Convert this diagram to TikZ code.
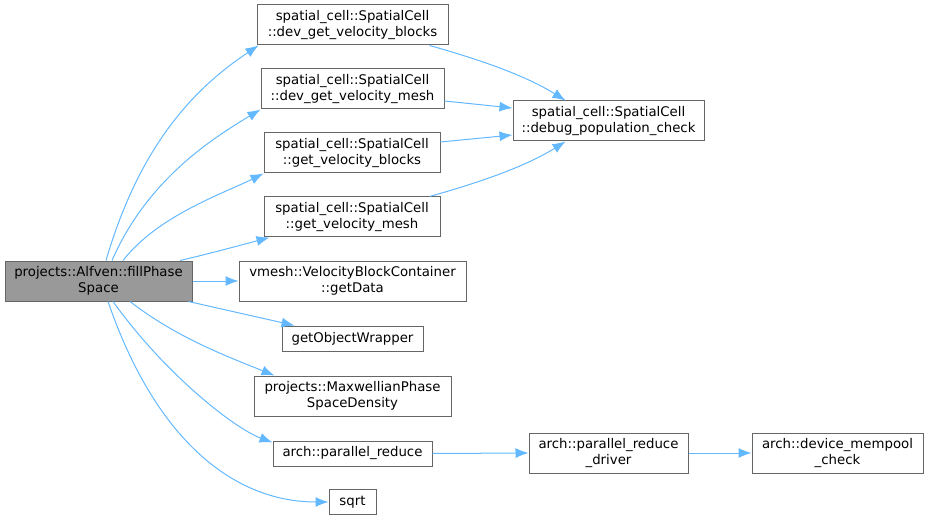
\documentclass[tikz,border=0pt]{standalone}
\usepackage{fontspec}
\setmainfont{DejaVu Sans}
\usetikzlibrary{arrows.meta}

\definecolor{edgeblue}{HTML}{63B8FF}
\definecolor{boxgray}{HTML}{666666}
\definecolor{rootgray}{HTML}{999999}

\begin{document}
\begin{tikzpicture}[x = 1pt, y = -1pt, > = {Latex[length = 13pt, width = 10pt]},
	fn/.style = {draw = boxgray, line width = 1pt, fill = white, inner sep = 0pt, align = center,
		font = \fontsize{13.3}{15.5}\selectfont, minimum height = 40pt},
	fnone/.style = {fn, minimum height = 25pt},
	call/.style = {->, edgeblue, line width = 1pt}]

	\useasboundingbox (0, 0) rectangle (928, 521);

	% Caller
	
	\node [fn, fill = rootgray, minimum width = 187pt] (root) at (98.5, 281) {projects::Alfven::fillPhase\\Space};
	
	% First level callees
	
	\node [fn, minimum width = 191pt] (dgvb) at (352.5, 25) {spatial\_cell::SpatialCell\\::dev\_get\_velocity\_blocks};
	\node [fn, minimum width = 183pt] (dgvm) at (352.5, 89) {spatial\_cell::SpatialCell\\::dev\_get\_velocity\_mesh};
	\node [fn, minimum width = 176pt] (gvb) at (352, 153) {spatial\_cell::SpatialCell\\::get\_velocity\_blocks};
	\node [fn, minimum width = 176pt] (gvm) at (352, 217) {spatial\_cell::SpatialCell\\::get\_velocity\_mesh};
	\node [fn, minimum width = 227pt] (data) at (352.5, 281) {vmesh::VelocityBlockContainer\\::getData};
	\node [fnone, minimum width = 141pt] (wrap) at (352.5, 338.5) {getObjectWrapper};
	\node [fn, minimum width = 197pt] (maxw) at (352.5, 396) {projects::MaxwellianPhase\\SpaceDensity};
	\node [fnone, minimum width = 159pt] (reduce) at (352.5, 453.5) {arch::parallel\_reduce};
	\node [fnone, minimum width = 47pt] (sqrt) at (352.5, 502) {sqrt};
	
	% Second and third level callees
	
	\node [fn, minimum width = 191pt] (check) at (608.5, 121) {spatial\_cell::SpatialCell\\::debug\_population\_check};
	\node [fn, minimum width = 159pt] (driver) at (608.5, 453) {arch::parallel\_reduce\\\_driver};
	\node [fn, minimum width = 171pt] (pool) at (837.5, 453) {arch::device\_mempool\\\_check};
	
	% Calls from the caller
	
	\draw [call] ([xshift = 7.5pt]root.north) .. controls +(35, -120) and +(-60, 40) .. ([xshift = 2pt]dgvb.south west);
	\draw [call] ([xshift = 13.5pt]root.north) .. controls +(35, -80) and +(-50, 30) .. (dgvm.south west);
	\draw [call] ([xshift = 24.5pt]root.north) .. controls +(35, -45) and +(-40, 20) .. (gvb.south west);
	\draw [call] ([xshift = 81.5pt]root.north) .. controls +(30, -7) and +(-30, 8) .. ([xshift = 6pt]gvm.south west);
	\draw [call] (root.east) -- (data.west);
	\draw [call] ([xshift = -4pt]root.south east) .. controls +(35, 8) and +(-35, -8) .. ([xshift = 13pt]wrap.north west);
	\draw [call] ([xshift = 31.5pt]root.south) .. controls +(45, 35) and +(-50, -20) .. ([xshift = 21pt]maxw.north west);
	\draw [call] ([xshift = 14.5pt]root.south) .. controls +(50, 70) and +(-40, -15) .. ([yshift = -2pt]reduce.north west);
	\draw [call] ([xshift = 9.5pt]root.south) .. controls +(50, 145) and +(-90, 0) .. (sqrt.west);
	
	% Calls further down
	
	\draw [call] ([xshift = 173pt]dgvb.south west) .. controls +(50, 14) and +(-40, -25) .. ([xshift = -43pt]check.north);
	\draw [call] ([yshift = -12pt]dgvm.east) -- ([yshift = 13pt]check.west);
	\draw [call] ([yshift = 11pt]gvb.east) -- ([yshift = -14pt]check.west);
	\draw [call] ([xshift = 166pt]gvm.north west) .. controls +(50, -14) and +(-40, 25) .. ([xshift = -43pt]check.south);
	\draw [call] (reduce.east) -- (driver.west);
	\draw [call] (driver.east) -- (pool.west);

\end{tikzpicture}
\end{document}
